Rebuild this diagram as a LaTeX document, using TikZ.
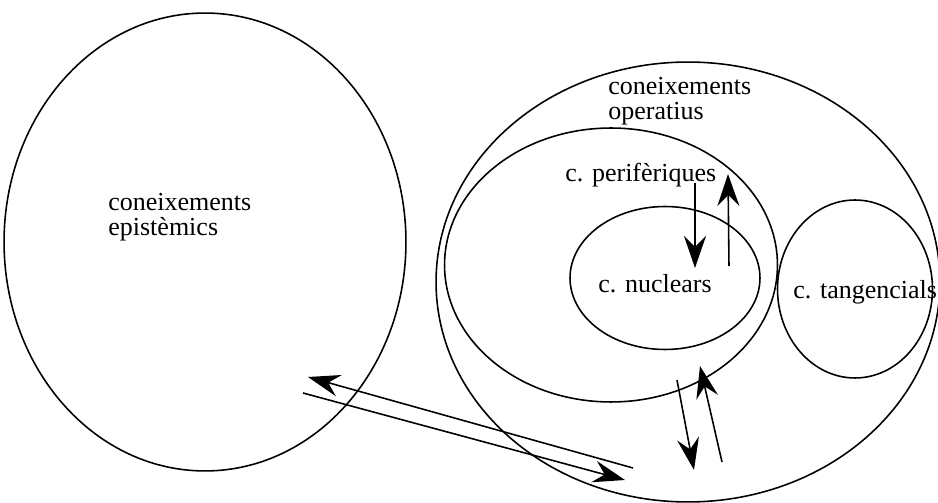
\documentclass[tikz,border=0pt]{standalone}
\usepackage{fontspec}
\setmainfont{Liberation Serif}
\usepackage{tikz}
\usetikzlibrary{arrows.meta, shapes.geometric, positioning}
\tikzset{
  >={Stealth[length=0.64cm,width=0.44cm,inset=0.22cm]},
  % conjunts de coneixements
  conj/.style={draw,ellipse,line width=0.9pt,inner sep=0,outer sep=0},
  etiq/.style={font=\fontsize{14.8}{14.6}\selectfont,inner sep=0,align=left},
  % fletxes
  fletxa/.style={->,line width=0.9pt}
}
\begin{document}
\begin{tikzpicture}[x=0.02cm,y=-0.02cm]
  \useasboundingbox (0,0) rectangle (938,503);
  % el\textperiodcentered lipses
  \node[conj,minimum width=8.04cm,minimum height=9.16cm] (epist) at (205,242) {};
  \node[conj,minimum width=10.08cm,minimum height=8.8cm] (oper) at (688,282) {};
  \node[conj,minimum width=6.66cm,minimum height=5.48cm] (perif) at (611,265) {};
  \node[conj,minimum width=3.8cm,minimum height=2.86cm] (nucl) at (665,278) {};
  \node[conj,minimum width=3.1cm,minimum height=3.56cm] (tang) at (855,289) {};
  % textos
  \node[etiq,anchor=west] (tepist) at (108,217) {coneixements\\epistèmics};
  \node[etiq,anchor=west] (toper) at (608,101) {coneixements\\operatius};
  \node[etiq,anchor=base west] (tperif) at (565,182) {c. perifèriques};
  \node[etiq,anchor=base west] (tnucl) at (598,293) {c. nuclears};
  \node[etiq,anchor=base west] (ttang) at (793,299) {c. tangencials};
  % extrems de les fletxes
  \coordinate (a1) at (695,183);  \coordinate (b1) at (695,268);
  \coordinate (a2) at (729,266);  \coordinate (b2) at (728,174);
  \coordinate (a3) at (633,468);  \coordinate (b3) at (308,377);
  \coordinate (a4) at (303,393);  \coordinate (b4) at (625,480);
  \coordinate (a5) at (677,380);  \coordinate (b5) at (694,470);
  \coordinate (a6) at (722,462);  \coordinate (b6) at (700,366);
  \foreach \i in {1,...,6}
    \draw[fletxa] (a\i) -- (b\i);
\end{tikzpicture}
\end{document}
